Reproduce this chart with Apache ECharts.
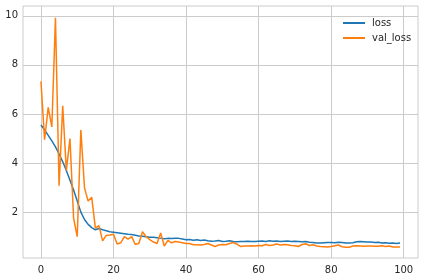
<!DOCTYPE html>
<html>
<head>
<meta charset="utf-8">
<script src="https://cdn.jsdelivr.net/npm/echarts@6/dist/echarts.min.js"></script>
<style>html,body{margin:0;padding:0;background:#fff}#c{width:424px;height:280px}</style>
</head>
<body>
<div id="c"></div>
<script>
const epochs = Array.from({length: 100}, (_, i) => i);
const loss = [5.55,5.35,5.13,4.9,4.66,4.37,4.05,3.7,3.3,2.9,2.45,2.0,1.7,1.5,1.37,1.28,1.33,1.28,1.24,1.2,
1.18,1.16,1.14,1.12,1.1,1.09,1.06,1.03,1.02,1.0,0.98,0.98,0.96,0.94,0.91,0.93,0.92,0.93,0.93,0.9,
0.87,0.88,0.85,0.87,0.84,0.86,0.83,0.81,0.82,0.84,0.8,0.81,0.83,0.8,0.79,0.8,0.8,0.81,0.8,0.8,
0.81,0.82,0.8,0.83,0.81,0.82,0.8,0.81,0.82,0.8,0.81,0.8,0.79,0.8,0.77,0.76,0.74,0.74,0.75,0.76,
0.76,0.75,0.77,0.76,0.74,0.74,0.75,0.79,0.8,0.79,0.78,0.78,0.76,0.77,0.74,0.75,0.73,0.74,0.72,0.74];
const valLoss = [7.33,4.95,6.27,5.47,9.92,3.08,6.33,3.7,5.0,1.75,1.0,5.35,3.0,2.45,2.6,1.35,1.45,0.83,1.05,1.07,
1.1,0.7,0.75,1.0,0.9,1.0,0.68,0.73,1.2,1.0,0.88,0.78,0.72,1.15,0.62,0.85,0.75,0.8,0.78,0.75,
0.72,0.72,0.67,0.67,0.66,0.68,0.72,0.66,0.6,0.66,0.68,0.67,0.72,0.76,0.7,0.6,0.62,0.62,0.63,0.62,
0.64,0.63,0.68,0.64,0.66,0.7,0.66,0.68,0.67,0.64,0.63,0.6,0.68,0.71,0.64,0.67,0.62,0.6,0.59,0.58,
0.6,0.63,0.66,0.59,0.57,0.57,0.62,0.63,0.62,0.61,0.62,0.62,0.61,0.61,0.63,0.6,0.62,0.58,0.58,0.58];
const xTicks = [0,20,40,60,80,100];
const yTicks = [2,4,6,8,10];

const chart = echarts.init(document.getElementById('c'), null, {renderer: 'canvas'});
const txt = {color: '#262626', fontFamily: 'DejaVu Sans', fontSize: 10};
chart.setOption({
  animation: false,
  backgroundColor: '#fff',
  grid: {left: 23, right: 6, top: 6, bottom: 22, containLabel: false, show: true, borderColor: '#cccccc', borderWidth: 1},
  legend: {
    orient: 'vertical', left: 338, top: 13, itemWidth: 22, itemHeight: 2, itemGap: 5,
    icon: 'rect',
    textStyle: Object.assign({}, txt, {padding: [0,0,0,2]}),
    data: ['loss', 'val_loss']
  },
  xAxis: {
    type: 'value', min: -4.95, max: 103.95,
    axisLine: {show: false}, axisTick: {show: false, customValues: xTicks},
    axisLabel: Object.assign({}, txt, {customValues: xTicks, margin: 7}),
    splitLine: {show: true, lineStyle: {color: '#cccccc', width: 1}}
  },
  yAxis: {
    type: 'value', min: 0.13, max: 10.4,
    axisLine: {show: false}, axisTick: {show: false, customValues: yTicks},
    axisLabel: Object.assign({}, txt, {customValues: yTicks, margin: 5}),
    splitLine: {show: true, lineStyle: {color: '#cccccc', width: 1}}
  },
  series: [
    {name: 'loss', type: 'line', symbol: 'none', data: epochs.map((e, i) => [e, loss[i]]),
     lineStyle: {color: '#1f77b4', width: 1.5}, itemStyle: {color: '#1f77b4'}},
    {name: 'val_loss', type: 'line', symbol: 'none', data: epochs.map((e, i) => [e, valLoss[i]]),
     lineStyle: {color: '#ff7f0e', width: 1.5}, itemStyle: {color: '#ff7f0e'}}
  ]
});
</script>
</body>
</html>
